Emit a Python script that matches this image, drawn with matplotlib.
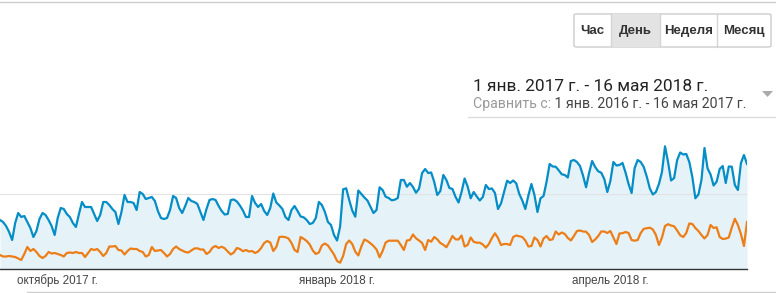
import numpy as np
import pandas as pd
import matplotlib
matplotlib.use("Agg")
import matplotlib.pyplot as plt
from matplotlib.patches import Rectangle, FancyBboxPatch, Polygon
from matplotlib.lines import Line2D

# daily values, 12 Sep 2017 .. 16 May 2018 (units: chart grid = 75)
start_date = "2017-09-12"
end_date = "2018-05-16"

sessions = [
    49, 47, 43, 37, 29, 46, 56, 52, 53, 47, 41, 32, 38, 50, 56, 54, 49, 43, 34, 51,
    61, 60, 55, 52, 46, 42, 55, 67, 62, 62, 62, 55, 48, 54, 67, 67, 64, 60, 57, 45,
    57, 74, 67, 67, 66, 59, 77, 75, 70, 71, 72, 68, 58, 51, 50, 51, 59, 73, 71, 61,
    56, 63, 71, 68, 67, 65, 57, 49, 60, 69, 70, 69, 63, 58, 54.5, 55, 69, 69.5, 67.5, 63.5,
    58.5, 52, 52, 73, 66, 62, 65, 58, 54, 61, 75.5, 66.5, 63.5, 60, 52, 49, 59, 63, 58, 52.5,
    51.7, 49, 45, 46, 51, 67, 64, 57, 47, 44, 34, 28.5, 42.3, 79.7, 80.7, 69, 58.5, 52.3, 78.5, 75,
    71.5, 68.5, 62.3, 56, 59, 81.7, 79, 72.3, 71, 68.7, 69.3, 71, 89, 89, 82.3, 86, 82, 76.3, 80.3, 96,
    100, 96, 96.5, 87, 74, 78, 94, 89, 81, 80, 72.3, 66.5, 77, 90.5, 82.5, 70.7, 77, 72.5, 68.5, 72,
    84, 80, 80.5, 76, 60, 65.7, 77, 88.3, 86, 88.5, 85.7, 75, 68.5, 60, 73.5, 85, 74, 57, 70.7, 73,
    87.3, 105, 102.5, 102.3, 98.7, 94.7, 94, 91.5, 108, 109, 107, 103, 93.5, 81.7, 96, 108, 102, 97.7, 96.3, 90,
    77, 88, 107, 103.5, 104, 106, 96.5, 85, 76, 101, 109, 107, 102, 92.3, 80.5, 74.5, 77, 85, 97, 122.7,
    107, 88.5, 91, 109, 116.5, 114.5, 115, 107, 92, 70.7, 74.5, 89, 121, 100.7, 94.5, 83.5, 87.3, 100, 103, 86,
    102.5, 102.3, 84, 79, 106, 114, 105,
]

sessions_prev = [
    14, 12.5, 12.5, 13, 12.5, 12, 10.5, 9, 15, 22, 18, 20, 17, 13, 11, 13, 17, 15.5, 16, 15,
    14, 12.5, 16, 16.5, 16, 17, 16, 16, 12, 16, 20, 19, 20, 17, 13, 16, 22.5, 22.5, 23, 19,
    18.5, 14.5, 18, 20.5, 20, 20, 18, 17, 12.5, 14, 22, 18, 18.5, 19, 16, 12.5, 15, 20, 22.5, 20,
    18.5, 17, 16.5, 18.5, 20.5, 20.7, 19.5, 19.5, 15, 17, 21.5, 23, 21, 22.3, 20.7, 17.5, 14.5, 16.5, 21, 20,
    17.8, 19, 17.5, 18, 16, 17.5, 21, 26, 28, 26.5, 18, 22, 32, 32.3, 31.8, 30.5, 26, 19, 17, 32,
    30.2, 28, 24.5, 18.5, 15, 16.5, 23.5, 25.5, 23.5, 19, 14.5, 8, 6.3, 13, 25, 28.5, 25, 17.3, 13.5, 22.5,
    29.5, 28, 25.7, 23, 19.5, 11.7, 18, 26.5, 28.3, 28.3, 28.3, 28.3, 24, 19, 28.5, 29, 34.5, 30.7, 28.5, 26,
    19, 29, 27.3, 32, 29.7, 26, 24.3, 21.7, 27, 33, 29.7, 29.5, 33.5, 22.5, 24, 31.5, 27.2, 26.3, 26.3, 24.5,
    21.3, 25, 31, 35.7, 31, 24, 25, 25, 24, 32, 33.5, 32.7, 32, 28.5, 22.5, 23, 31.5, 29, 22.5, 30.5,
    33, 29, 29.7, 37.5, 34.5, 36.5, 35, 31, 28.5, 33, 38, 38.5, 37.5, 37.3, 34, 27, 29.5, 33, 37.5, 37.5,
    36, 38, 31.5, 25, 35.5, 35.8, 37, 36, 29, 28.3, 29, 36, 40.2, 40.7, 41.3, 39.5, 34, 24, 31.5, 43,
    44.8, 43.5, 42.7, 38.5, 33.7, 32, 36, 45.5, 45, 41, 38, 34, 30.5, 34, 44, 41, 41.7, 32, 30, 30.4,
    31.5, 41.5, 50.2, 44, 35, 23, 47,
]

month_ticks = ["2017-10-01", "2018-01-01", "2018-04-01"]
month_labels = ["октябрь 2017 г.", "январь 2018 г.", "апрель 2018 г."]
period_buttons = ["Час", "День", "Неделя", "Месяц"]
selected_button = "День"
date_range = "1 янв. 2017 г. - 16 мая 2018 г."
compare_prefix = "Сравнить с:"
compare_range = " 1 янв. 2016 г. - 16 мая 2017 г."

BLUE = "#058dc7"
ORANGE = "#ed7e17"

W, H = 776, 293
fig = plt.figure(figsize=(W / 100, H / 100), dpi=100)


def fx(px):
    return px / W


def fy(py):
    return 1 - py / H


dates = pd.date_range(start_date, end_date, freq="D")

# main chart area
ax = fig.add_axes([0, fy(269), fx(747), 150 / H])
ax.fill_between(dates, sessions, 0, color=BLUE, alpha=0.1, lw=0)
ax.plot(dates, sessions_prev, color=ORANGE, lw=1.6, solid_joinstyle="round")
ax.plot(dates, sessions, color=BLUE, lw=1.6, solid_joinstyle="round")
ax.set_xlim(dates[0], dates[-1])
ax.set_ylim(0, 150)
ax.set_yticks([75])
ax.yaxis.grid(True, color="#e2e2e2", lw=0.8)
ax.tick_params(axis="y", length=0, labelleft=False)
ax.set_xticks(pd.to_datetime(month_ticks))
ax.set_xticklabels(month_labels, family=["Liberation Sans", "DejaVu Sans"],
                   fontsize=8.4, color="#444444")
ax.tick_params(axis="x", length=0, pad=4)
for side in ["top", "right", "left"]:
    ax.spines[side].set_visible(False)
ax.spines["bottom"].set_color("#333333")
ax.spines["bottom"].set_linewidth(1.0)
ax.set_facecolor("none")

# frame lines of the screenshot
fig.add_artist(Line2D([0, 1], [fy(2), fy(2)], color="#cccccc", lw=1))
fig.add_artist(Line2D([fx(27), 1], [fy(292), fy(292)], color="#cccccc", lw=1))
fig.add_artist(Line2D([fx(468), 1], [fy(117), fy(117)], color="#dddddd", lw=1))

# period buttons
edges = [574, 611, 660, 717, 771]
fig.add_artist(FancyBboxPatch((fx(574), fy(47)), fx(771 - 574), (47 - 14) / H,
                              boxstyle="round,pad=0,rounding_size=0.004",
                              fc="white", ec="#cccccc", lw=1))
for i, name in enumerate(period_buttons):
    x0, x1 = edges[i], edges[i + 1]
    if name == selected_button:
        fig.add_artist(Rectangle((fx(x0), fy(47)), fx(x1 - x0), (47 - 14) / H,
                                 fc="#e3e3e3", ec="none"))
    if i > 0:
        fig.add_artist(Line2D([fx(x0), fx(x0)], [fy(47), fy(14)], color="#d5d5d5", lw=1))
    fig.text(fx((x0 + x1) / 2), fy(31), name, ha="center", va="center",
             family=["Liberation Sans Narrow", "Liberation Sans", "DejaVu Sans"],
             fontsize=9.5, fontweight="bold", color="#333333")

# date range selector
fig.text(fx(473), fy(90.7), date_range, ha="left", va="baseline",
         family=["Roboto", "DejaVu Sans"], fontsize=12.4, color="#222222")
t1 = fig.text(fx(473), fy(108.3), compare_prefix, ha="left", va="baseline",
              family=["Roboto", "DejaVu Sans"], fontsize=10.2, color="#9a9a9a")
renderer = fig.canvas.get_renderer()
bb = t1.get_window_extent(renderer)
fig.text(bb.x1 / W, fy(108.3), compare_range, ha="left", va="baseline",
         family=["Roboto", "DejaVu Sans"], fontsize=10.2, color="#444444")
fig.add_artist(Polygon([[fx(762), fy(91)], [fx(773), fy(91)], [fx(767.5), fy(97)]],
                       closed=True, fc="#aaaaaa", ec="none"))

fig.savefig("out.png", dpi=100)
